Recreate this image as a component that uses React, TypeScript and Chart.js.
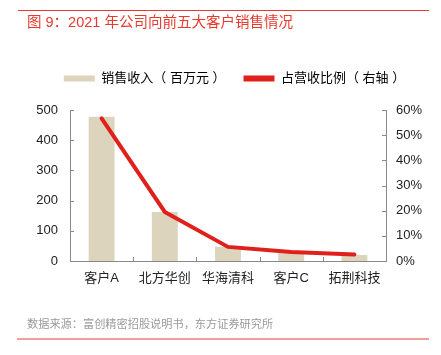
import React, { useEffect, useRef } from "react";
import { Chart, registerables } from "chart.js";

Chart.register(...registerables);

const categories = ["客户A", "北方华创", "华海清科", "客户C", "拓荆科技"];
const salesRevenue = [478, 162, 47, 26, 20];
const revenueShare = [56.7, 19.5, 5.6, 3.6, 2.6];
const leftTicks = [0, 100, 200, 300, 400, 500];
const rightTicks = [0, 10, 20, 30, 40, 50, 60];

const FONT = '"Liberation Sans", "Noto Sans CJK SC", sans-serif';
const AXIS = "#8a8a8a";

const innerTicks = {
  id: "innerTicks",
  afterDraw(chart: any) {
    const ctx = chart.ctx;
    const { y, y1 } = chart.scales;
    const area = chart.chartArea;
    ctx.save();
    ctx.strokeStyle = AXIS;
    ctx.lineWidth = 1;
    ctx.beginPath();
    y.ticks.forEach((t: any) => {
      const py = Math.round(y.getPixelForValue(t.value)) + 0.5;
      ctx.moveTo(area.left, py);
      ctx.lineTo(area.left + 4, py);
    });
    y1.ticks.forEach((t: any) => {
      const py = Math.round(y1.getPixelForValue(t.value)) + 0.5;
      ctx.moveTo(area.right - 4, py);
      ctx.lineTo(area.right, py);
    });
    const n = categories.length;
    const w = (area.right - area.left) / n;
    for (let i = 1; i < n; i++) {
      const px = Math.round(area.left + w * i) + 0.5;
      ctx.moveTo(px, area.bottom);
      ctx.lineTo(px, area.bottom - 4);
    }
    ctx.stroke();
    ctx.restore();
  },
};

const legendSpacer = {
  id: "legendSpacer",
  beforeInit(chart: any) {
    const orig = chart.legend.fit;
    chart.legend.fit = function () {
      orig.bind(chart.legend)();
      this.height += 15;
    };
  },
  afterUpdate(chart: any) {
    const lg = chart.legend;
    lg.left += 14;
    lg.right += 14;
  },
};

export default function App() {
  const ref = useRef<HTMLCanvasElement>(null);
  useEffect(() => {
    if (!ref.current) return;
    const chart = new Chart(ref.current, {
      data: {
        labels: categories,
        datasets: [
          {
            type: "line",
            label: "占营收比例（ 右轴 ）",
            data: revenueShare,
            yAxisID: "y1",
            borderColor: "#e0201b",
            backgroundColor: "#e0201b",
            borderWidth: 4,
            pointRadius: 0,
            tension: 0,
            borderCapStyle: "round",
            order: 0,
          } as any,
          {
            type: "bar",
            label: "销售收入（ 百万元 ）",
            data: salesRevenue,
            yAxisID: "y",
            backgroundColor: "#ddd4bd",
            categoryPercentage: 1,
            barPercentage: 0.41,
            order: 1,
          } as any,
        ],
      },
      options: {
        animation: false,
        responsive: false,
        layout: { padding: { top: 54, left: 0, right: 0, bottom: 0 } },
        plugins: {
          tooltip: { enabled: false },
          legend: {
            position: "top",
            align: "center",
            reverse: true,
            labels: {
              font: { family: FONT, size: 13 },
              color: "#222",
              boxWidth: 31,
              boxHeight: 6,
              padding: 18,
              generateLabels: (c: any) =>
                c.data.datasets.map((d: any, i: number) => ({
                  text: d.label,
                  fillStyle: d.type === "line" ? "#e0201b" : "#ddd4bd",
                  strokeStyle: d.type === "line" ? "#e0201b" : "#ddd4bd",
                  lineWidth: 0,
                  datasetIndex: i,
                  hidden: false,
                })),
            },
          },
        },
        scales: {
          x: {
            offset: true,
            grid: { display: false, drawTicks: false },
            border: { display: true, color: AXIS, width: 1 },
            ticks: { font: { family: FONT, size: 13 }, color: "#222", padding: 10 },
            afterFit: (s: any) => {
              s.height = 355 - 261;
            },
          },
          y: {
            position: "left",
            min: 0,
            max: 500,
            afterBuildTicks: (s: any) => {
              s.ticks = leftTicks.map((v) => ({ value: v }));
            },
            grid: { display: false, drawTicks: false },
            border: { display: true, color: AXIS, width: 1 },
            ticks: { font: { family: FONT, size: 13 }, color: "#222", padding: 12 },
            afterFit: (s: any) => {
              s.width = 70;
            },
          },
          y1: {
            position: "right",
            min: 0,
            max: 60,
            afterBuildTicks: (s: any) => {
              s.ticks = rightTicks.map((v) => ({ value: v }));
            },
            grid: { display: false, drawTicks: false },
            border: { display: true, color: AXIS, width: 1 },
            ticks: {
              font: { family: FONT, size: 13 },
              color: "#222",
              padding: 10,
              callback: (v: any) => v + "%",
            },
            afterFit: (s: any) => {
              s.width = 441 - 386;
            },
          },
        },
      },
      plugins: [innerTicks, legendSpacer],
    } as any);
    return () => chart.destroy();
  }, []);

  return (
    <div
      style={{
        position: "fixed",
        left: 0,
        top: 0,
        width: 441,
        height: 355,
        background: "#fff",
        overflow: "hidden",
      }}
    >
      <canvas ref={ref} width={441} height={355} style={{ position: "absolute", left: 0, top: 0 }} />
      <div style={{ position: "absolute", left: 18, top: 10, width: 411, height: 1, background: "#e8392e" }} />
      <div
        style={{
          position: "absolute",
          left: 27,
          top: 13,
          fontFamily: FONT,
          fontSize: 14.5,
          lineHeight: "18px",
          color: "#e8392e",
          whiteSpace: "nowrap",
        }}
      >
        图 9：2021 年公司向前五大客户销售情况
      </div>
      <div
        style={{
          position: "absolute",
          left: 27,
          top: 317,
          fontFamily: FONT,
          fontSize: 11.2,
          lineHeight: "14px",
          color: "#9a9a9a",
          whiteSpace: "nowrap",
        }}
      >
        数据来源：富创精密招股说明书，东方证券研究所
      </div>
      <div style={{ position: "absolute", left: 17, top: 338, width: 412, height: 2, background: "#f0a09c" }} />
    </div>
  );
}
